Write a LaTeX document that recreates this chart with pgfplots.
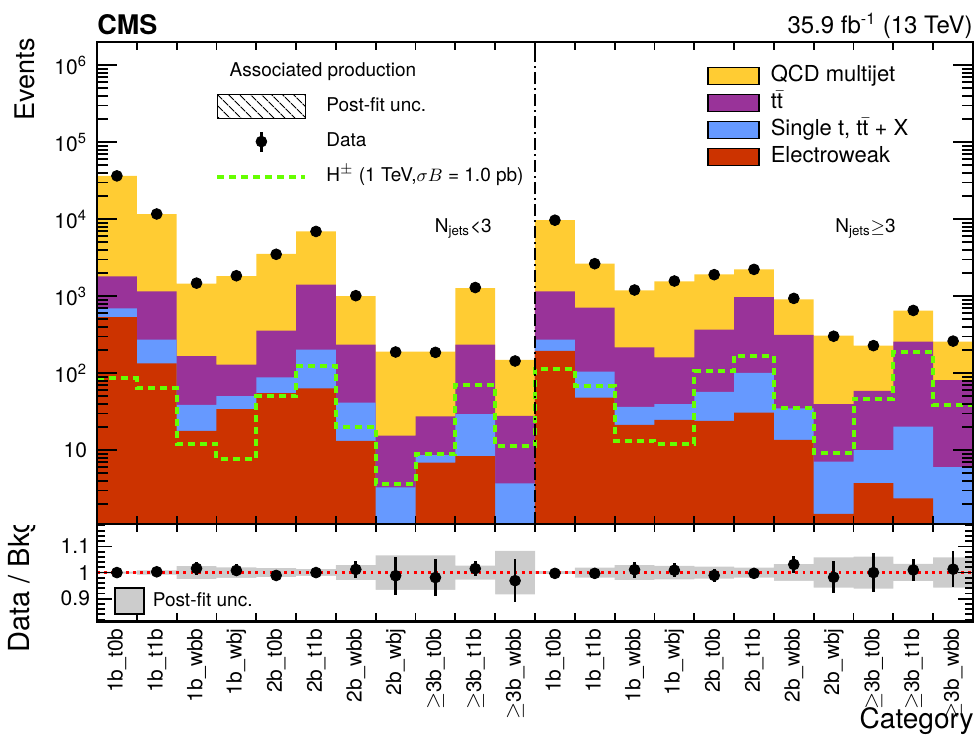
\documentclass[border=0pt]{standalone}
\usepackage{fontspec}
\setmainfont{TeX Gyre Heros}
\usepackage{amsmath}
\usepackage{pgfplots}
\pgfplotsset{compat=1.18}
\usepackage{pgfplotstable}
\usetikzlibrary{patterns.meta}

\definecolor{cqcd}{RGB}{255,204,51}
\definecolor{ctt}{RGB}{153,51,153}
\definecolor{cst}{RGB}{102,153,255}
\definecolor{cew}{RGB}{204,51,0}
\definecolor{csig}{RGB}{102,255,0}
\definecolor{cband}{RGB}{204,204,204}

\newcommand\ticfont{\fontsize{10.5}{12}\selectfont}

% cumulative stack tops per bin (left edge), last row closes the last bin
\pgfplotstableread{
x   qcd     tt     st     ew     sig
0   36500   1812   693    534    85.5
1   11650   1155   273    134    65
2   1455    166    38.8   17.8   12.2
3   1828    129    50.4   34.1   7.8
4   3540    358    88     55.2   49.9
5   6930    1413   202    63.4   125
6   1003    235    41.6   13.2   20.3
7   190.7   15.5   3.3    1.0    3.66
8   190     27.4   8.65   6.87   8.8
9   1276    235    29.4   8.4    70.8
10  148.6   27.9   3.7    1.0    11.3
11  9730    1155   273    194.6  113
12  2650    708    104.7  48.3   68.7
13  1190    217    36.6   21.3   13.2
14  1560    160.7  39.7   24.8   12.2
15  1924    369    57.4   24     105.5
16  2236    973    100.7  30.8   169
17  908     315    34.8   13.6   34.8
18  308     39.7   7.08   1.49   9.27
19  228     59.1   10.0   3.73   46.9
20  647     257.5  20.3   2.36   186.7
21  257.5   81.5   6.04   1.0    38.8
22  257.5   81.5   6.04   1.0    38.8
}\stacktab

\pgfplotstableread{
x     data    err
0.5   36500   191
1.5   11685   108
2.5   1478    38
3.5   1843    43
4.5   3501    59
5.5   6930    83
6.5   1015    32
7.5   188.4   13.7
8.5   186.4   13.7
9.5   1295    36
10.5  144     12
11.5  9700    98
12.5  2642    51
13.5  1203    35
14.5  1574    40
15.5  1903    44
16.5  2229    47
17.5  936     31
18.5  302     17
19.5  228     15
20.5  653     26
21.5  261     16
}\datatab

% post-fit band edges in the ratio
\pgfplotstableread{
x   up     lo
0   1.004  0.996
1   1.008  0.992
2   1.025  0.975
3   1.020  0.980
4   1.017  0.983
5   1.013  0.987
6   1.029  0.971
7   1.066  0.934
8   1.066  0.934
9   1.027  0.973
10  1.083  0.917
11  1.006  0.994
12  1.019  0.981
13  1.029  0.971
14  1.026  0.974
15  1.023  0.977
16  1.019  0.981
17  1.032  0.968
18  1.058  0.942
19  1.061  0.939
20  1.033  0.967
21  1.058  0.942
22  1.058  0.942
}\bandtab

\pgfplotstableread{
x     r      e
0.5   1.000  0.005
1.5   1.003  0.009
2.5   1.016  0.026
3.5   1.008  0.023
4.5   0.989  0.017
5.5   1.000  0.012
6.5   1.012  0.032
7.5   0.988  0.072
8.5   0.981  0.072
9.5   1.015  0.028
10.5  0.969  0.082
11.5  0.997  0.010
12.5  0.997  0.019
13.5  1.011  0.030
14.5  1.009  0.026
15.5  0.989  0.024
16.5  0.997  0.021
17.5  1.031  0.034
18.5  0.982  0.062
19.5  1.000  0.075
20.5  1.010  0.043
21.5  1.013  0.070
}\ratiotab

\pgfplotsset{
  stackbar/.style={ybar interval, fill=#1, draw=none,
    legend image code/.code={\draw[fill=#1, draw=black, line width=0.7pt] (0pt,-4.25pt) rectangle (25.5pt,4.25pt);}},
  cmsaxis/.style={
    width=438pt, scale only axis, axis on top,
    xmin=0, xmax=22,
    axis line style={line width=1.1pt},
    every tick/.style={black, line width=0.9pt},
    tick label style={font=\ticfont},
  },
}

\begin{document}
\begin{tikzpicture}
\path[use as bounding box] (-48.5pt,-106pt) rectangle (439.5pt,262pt);

% main panel
\begin{axis}[cmsaxis,
  at={(0,0)}, anchor=south west, height=241pt,
  ymode=log, ymin=1.1, ymax=2e6,
  xtick={1,...,21}, xticklabels={},
  xtick style={/pgfplots/major tick length=4pt},
  ytick={10,100,1000,10000,100000,1000000},
  yticklabels={10,10\textsuperscript{2},10\textsuperscript{3},10\textsuperscript{4},10\textsuperscript{5},10\textsuperscript{6}},
  minor ytick={2,3,4,5,6,7,8,9,20,30,40,50,60,70,80,90,200,300,400,500,600,700,800,900,2000,3000,4000,5000,6000,7000,8000,9000,20000,30000,40000,50000,60000,70000,80000,90000,200000,300000,400000,500000,600000,700000,800000,900000},
  ytick style={/pgfplots/major tick length=10pt, /pgfplots/minor tick length=5.5pt},
  yticklabel style={xshift=-1.5pt},
  legend cell align=left,
  legend style={at={(0.6963,0.954)}, anchor=north west, draw=none, fill=none,
    inner sep=0pt, row sep=2pt, column sep=5pt,
    font=\fontsize{11}{13}\selectfont,
    nodes={inner sep=0.5pt, text height=8.2pt, text depth=2.3pt}},
]
\addplot[stackbar=cqcd] table[x=x, y=qcd] {\stacktab};
\addlegendentry{QCD multijet}
\addplot[stackbar=ctt] table[x=x, y=tt] {\stacktab};
\addlegendentry{t$\bar{\text{t}}$}
\addplot[stackbar=cst] table[x=x, y=st] {\stacktab};
\addlegendentry{Single t, t$\bar{\text{t}}$ + X}
\addplot[stackbar=cew] table[x=x, y=ew] {\stacktab};
\addlegendentry{Electroweak}

\addplot[const plot, csig, line width=2pt, dash pattern=on 3.5pt off 2.5pt, forget plot]
  table[x=x, y=sig] {\stacktab};

\addplot[only marks, mark=*, mark size=2.7pt, black, forget plot,
  error bars/.cd, y dir=both, y explicit, error mark=none,
  error bar style={line width=1.4pt}]
  table[x=x, y=data, y error=err] {\datatab};

\addplot[black, line width=0.8pt, dash pattern=on 6pt off 2pt on 1pt off 2pt, forget plot]
  coordinates {(11,1.1) (11,2e6)};

\node[font=\fontsize{9.5}{11}\selectfont] at (axis cs:9.2,7650) {N\textsubscript{jets}<3};
\node[font=\fontsize{9.5}{11}\selectfont] at (axis cs:19.3,7650) {N\textsubscript{jets}$\geq$3};
\end{axis}

% left legend of the main panel
\begin{axis}[
  at={(0,0)}, anchor=south west, width=438pt, height=241pt, scale only axis,
  hide axis, xmin=0, xmax=1, ymin=0, ymax=1,
  legend cell align=left,
  legend style={at={(0.1347,0.893)}, anchor=north west, draw=none, fill=none,
    inner sep=0pt, row sep=4.9pt, column sep=9pt,
    font=\fontsize{9.5}{11}\selectfont,
    nodes={inner sep=0.5pt, text height=7pt, text depth=2pt}},
]
\addplot[draw=none, forget plot] coordinates {(0,0) (1,1)};
\addlegendimage{legend image code/.code={
  \draw[pattern={Lines[angle=-45, distance=4pt, line width=0.5pt]}, draw=black, line width=0.6pt]
    (0pt,-6pt) rectangle (44pt,6pt);}}
\addlegendentry{Post-fit unc.}
\addlegendimage{legend image code/.code={
  \path[draw=none, fill=none] (0pt,-6.3pt) rectangle (44pt,6.3pt);
  \draw[black, line width=1.4pt] (22pt,-5pt) -- (22pt,5pt);
  \fill[black] (22pt,0pt) circle (2.7pt);}}
\addlegendentry{Data}
\addlegendimage{legend image code/.code={
  \path[draw=none, fill=none] (0pt,-6.3pt) rectangle (44pt,6.3pt);
  \draw[csig, line width=2pt, dash pattern=on 3.5pt off 2.5pt] (0pt,0pt) -- (44pt,0pt);}}
\addlegendentry{H\textsuperscript{$\pm$} (1 TeV,$\sigma B$ = 1.0 pb)}
\end{axis}

% ratio panel
\begin{axis}[cmsaxis,
  at={(0,0)}, anchor=north west, height=48.7pt,
  ymin=0.813, ymax=1.186,
  xtick={0.5,1.5,...,21.5},
  xticklabels={1b\_t0b,1b\_t1b,1b\_wbb,1b\_wbj,2b\_t0b,2b\_t1b,2b\_wbb,2b\_wbj,$\geq$3b\_t0b,$\geq$3b\_t1b,$\geq$3b\_wbb,
                1b\_t0b,1b\_t1b,1b\_wbb,1b\_wbj,2b\_t0b,2b\_t1b,2b\_wbb,2b\_wbj,$\geq$3b\_t0b,$\geq$3b\_t1b,$\geq$3b\_wbb},
  x tick label style={rotate=90, anchor=east},
  major x tick style={draw=none},
  minor xtick={1,...,21},
  xtick style={/pgfplots/minor tick length=4pt},
  ytick={0.9,1,1.1}, yticklabels={0.9,1,1.1},
  minor ytick={0.82,0.84,0.86,0.88,0.92,0.94,0.96,0.98,1.02,1.04,1.06,1.08,1.12,1.14,1.16,1.18},
  ytick style={/pgfplots/major tick length=7.5pt, /pgfplots/minor tick length=4pt},
  legend cell align=left,
  legend style={at={(0.0194,0.063)}, anchor=south west, draw=none, fill=none,
    inner sep=0pt, column sep=3.5pt,
    font=\fontsize{9.5}{11}\selectfont,
    nodes={inner sep=0.5pt}},
]
% band: grey up to the upper edge, then white up to the lower edge
\addplot[ybar interval, fill=cband, draw=none, forget plot] table[x=x, y=up] {\bandtab};
\addplot[ybar interval, fill=white, draw=none, forget plot] table[x=x, y=lo] {\bandtab};
\addplot[red, line width=1.4pt, dash pattern=on 1.4pt off 2.2pt, forget plot]
  coordinates {(0,1) (22,1)};
\addplot[only marks, mark=*, mark size=2.7pt, black, forget plot,
  error bars/.cd, y dir=both, y explicit, error mark=none,
  error bar style={line width=1.4pt}]
  table[x=x, y=r, y error=e] {\ratiotab};
\addlegendimage{legend image code/.code={
  \draw[fill=cband, draw=black, line width=0.7pt] (0pt,-6.5pt) rectangle (14.5pt,6.5pt);}}
\addlegendentry{Post-fit unc.}
\end{axis}

% titles
\node[anchor=base west, inner sep=0pt, font=\fontsize{13.5}{15}\bfseries] at (0pt,245pt) {CMS};
\node[anchor=base east, inner sep=0pt, font=\fontsize{12}{14}\selectfont] at (438pt,245.5pt) {35.9 fb\textsuperscript{-1} (13 TeV)};
\node[font=\fontsize{9.5}{11}\selectfont] at (113pt,226pt) {Associated production};
\node[rotate=90, anchor=east, inner sep=0pt, font=\fontsize{13.5}{15}\selectfont] at (-36pt,243pt) {Events};
\begin{scope}
\clip (-48.5pt,-106pt) rectangle (-20pt,-0.8pt);
\node[rotate=90, anchor=west, inner sep=0pt, font=\fontsize{14.5}{17}\selectfont] at (-37.3pt,-64.5pt) {Data / Bkg};
\end{scope}
\node[anchor=base east, inner sep=0pt, font=\fontsize{14}{16}\selectfont] at (438.5pt,-102pt) {Category};
\end{tikzpicture}
\end{document}
